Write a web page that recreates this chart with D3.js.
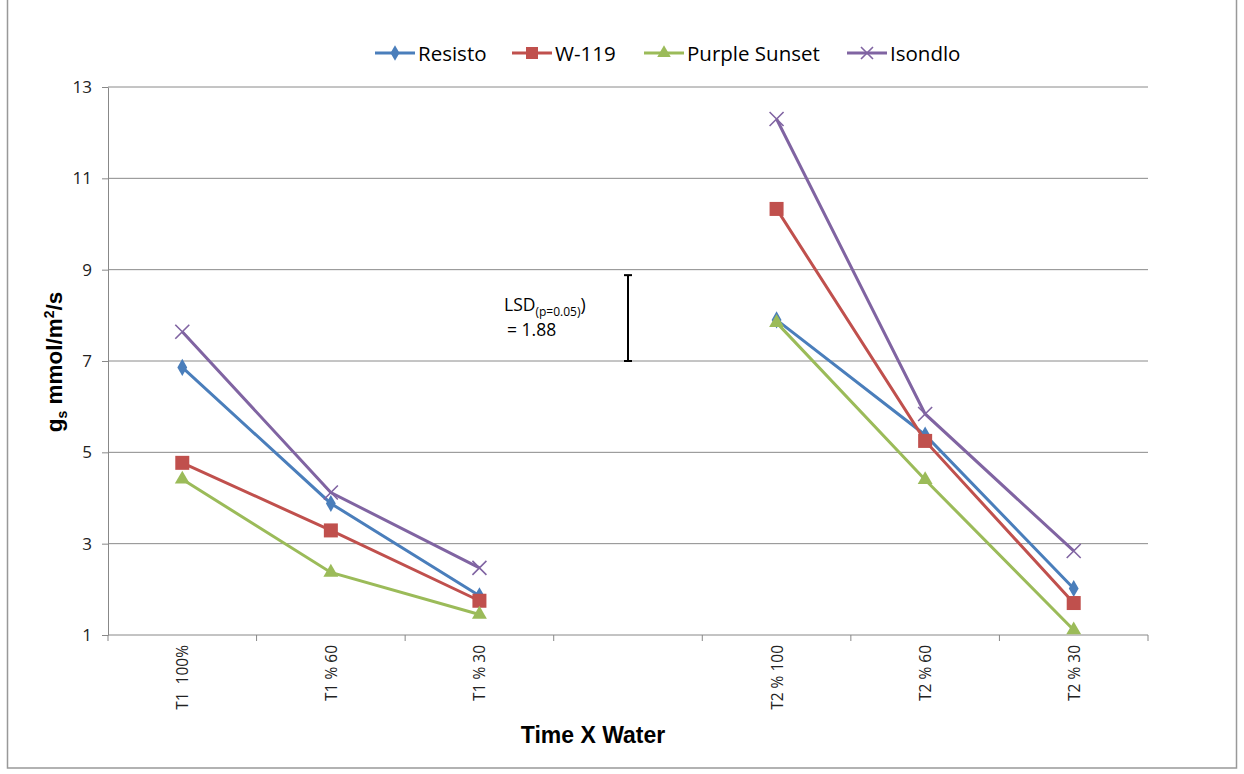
<!DOCTYPE html>
<html>
<head>
<meta charset="utf-8">
<script src="https://cdn.jsdelivr.net/npm/d3@7"></script>
<style>
  body { margin: 0; background: #fff; }
  .axis text { font-family: "Open Sans", sans-serif; fill: #222; }
  .axis path, .axis line { stroke: #888; }
</style>
</head>
<body>
<div id="chart"></div>
<script>
// categories (blank slot between the two time points)
const categories = ["T1  100%", "T1 % 60", "T1 % 30", "", "T2 % 100", "T2 % 60", "T2 % 30"];
const yTicks = [1, 3, 5, 7, 9, 11, 13];

// series values, null for the blank slot
const resisto = [6.86, 3.88, 1.86, null, 7.9, 5.38, 2.02];
const w119 = [4.77, 3.29, 1.75, null, 10.33, 5.25, 1.7];
const purpleSunset = [4.41, 2.37, 1.45, null, 7.84, 4.4, 1.11];
const isondlo = [7.64, 4.12, 2.47, null, 12.3, 5.84, 2.84];

// LSD bar
const lsdBase = 7;
const lsdValue = 1.88;

const series = [
  { name: "Resisto", values: resisto, color: "#4A7EBB", marker: "diamond" },
  { name: "W-119", values: w119, color: "#C0504D", marker: "square" },
  { name: "Purple Sunset", values: purpleSunset, color: "#9BBB59", marker: "triangle" },
  { name: "Isondlo", values: isondlo, color: "#8064A2", marker: "cross" },
];

const W = 1244, H = 774;
const margin = { top: 87, right: 96, bottom: 139, left: 108 };
const width = W - margin.left - margin.right;
const height = H - margin.top - margin.bottom;

const svg = d3.select("#chart").append("svg")
  .attr("width", W).attr("height", H);

// outer frame
svg.append("rect")
  .attr("x", 7.5).attr("y", -1)
  .attr("width", 1229).attr("height", 769)
  .attr("fill", "none").attr("stroke", "#999").attr("stroke-width", 1.5);

const g = svg.append("g")
  .attr("transform", "translate(" + margin.left + "," + margin.top + ")");

const x = d3.scaleBand().domain(d3.range(categories.length)).range([0, width]);
const y = d3.scaleLinear().domain([1, 13]).range([height, 0]);

// gridlines
g.append("g").selectAll("line")
  .data(yTicks.slice(1))
  .join("line")
  .attr("x1", 0).attr("x2", width)
  .attr("y1", d => y(d)).attr("y2", d => y(d))
  .attr("stroke", "#8a8a8a").attr("stroke-width", 1);

// y axis
const yAxis = g.append("g").attr("class", "axis")
  .call(d3.axisLeft(y).tickValues(yTicks).tickSize(6).tickPadding(10).tickSizeOuter(0));
yAxis.selectAll("text").style("font-size", "17px");

// x axis: line with ticks at band edges
const xAxisG = g.append("g").attr("class", "axis")
  .attr("transform", "translate(0," + height + ")");
xAxisG.append("line")
  .attr("x1", 0).attr("x2", width)
  .attr("stroke", "#888");
xAxisG.selectAll(".tick-edge")
  .data(d3.range(categories.length + 1))
  .join("line")
  .attr("x1", i => i * x.bandwidth()).attr("x2", i => i * x.bandwidth())
  .attr("y1", 0).attr("y2", 6)
  .attr("stroke", "#888");
xAxisG.selectAll(".cat")
  .data(categories)
  .join("text")
  .attr("transform", (d, i) =>
    "translate(" + (x(i) + x.bandwidth() / 2 + 6) + ",10) rotate(-90)")
  .attr("text-anchor", "end")
  .style("font-size", "15.5px")
  .style("white-space", "pre")
  .text(d => d);

// line generator
const line = d3.line()
  .defined(d => d != null)
  .x((d, i) => x(i) + x.bandwidth() / 2)
  .y(d => y(d));

function drawMarker(sel, type, color, size) {
  if (type === "diamond") {
    sel.append("path").attr("d", d3.symbol(d3.symbolDiamond, size * 7)())
      .attr("fill", color);
  } else if (type === "square") {
    sel.append("rect").attr("x", -size / 2 - 1).attr("y", -size / 2 - 1)
      .attr("width", size + 2).attr("height", size + 2).attr("fill", color);
  } else if (type === "triangle") {
    sel.append("path").attr("d", d3.symbol(d3.symbolTriangle, size * 8)())
      .attr("fill", color);
  } else {
    const s = size / 2 + 1;
    sel.append("path").attr("d", "M" + -s + "," + -s + "L" + s + "," + s + "M" + -s + "," + s + "L" + s + "," + -s)
      .attr("stroke", color).attr("stroke-width", 1.6).attr("fill", "none");
  }
}

series.forEach(s => {
  g.append("path")
    .datum(s.values)
    .attr("fill", "none")
    .attr("stroke", s.color)
    .attr("stroke-width", 3)
    .attr("d", line);

  s.values.forEach((v, i) => {
    if (v == null) return;
    const m = g.append("g")
      .attr("transform", "translate(" + (x(i) + x.bandwidth() / 2) + "," + y(v) + ")");
    drawMarker(m, s.marker, s.color, 12);
  });
});

// LSD bar in the blank slot
const lsdX = x(3) + x.bandwidth() / 2;
const lsd = g.append("g").attr("stroke", "#000").attr("stroke-width", 2);
lsd.append("line").attr("x1", lsdX).attr("x2", lsdX)
  .attr("y1", y(lsdBase)).attr("y2", y(lsdBase + lsdValue));
[lsdBase, lsdBase + lsdValue].forEach(v => {
  lsd.append("line").attr("x1", lsdX - 4).attr("x2", lsdX + 4)
    .attr("y1", y(v)).attr("y2", y(v));
});

const lsdText = g.append("text")
  .attr("x", lsdX - 124).attr("y", y(8.1))
  .style("font-family", "'Open Sans', sans-serif")
  .style("font-size", "17.5px");
lsdText.append("tspan").text("LSD");
lsdText.append("tspan").attr("dy", 5).style("font-size", "12px").text("(p=0.05)");
lsdText.append("tspan").attr("dy", -5).text(")");
g.append("text")
  .attr("x", lsdX - 121).attr("y", y(7.55))
  .style("font-family", "'Open Sans', sans-serif")
  .style("font-size", "17.5px")
  .text("= 1.88");

// axis titles
const yTitle = svg.append("text")
  .attr("transform", "translate(62,362) rotate(-90)")
  .attr("text-anchor", "middle")
  .style("font-family", "'Liberation Sans', Arial, sans-serif")
  .style("font-weight", "bold")
  .style("font-size", "22.5px");
yTitle.append("tspan").text("g");
yTitle.append("tspan").attr("dy", 5).style("font-size", "14px").text("s");
yTitle.append("tspan").attr("dy", -5).text(" mmol/m");
yTitle.append("tspan").attr("dy", -8).style("font-size", "14px").text("2");
yTitle.append("tspan").attr("dy", 8).text("/s");

svg.append("text")
  .attr("x", 593).attr("y", 743)
  .attr("text-anchor", "middle")
  .style("font-family", "'Liberation Sans', Arial, sans-serif")
  .style("font-weight", "bold")
  .style("font-size", "23px")
  .text("Time X Water");

// legend
const legendX = [375, 512, 644, 847];
const legend = svg.append("g");
series.forEach((s, i) => {
  const lg = legend.append("g").attr("transform", "translate(" + legendX[i] + ",53)");
  lg.append("line").attr("x1", 0).attr("x2", 40)
    .attr("stroke", s.color).attr("stroke-width", 3);
  const m = lg.append("g").attr("transform", "translate(20,0)");
  drawMarker(m, s.marker, s.color, 10);
  lg.append("text").attr("x", 43).attr("y", 7.5)
    .style("font-family", "'Open Sans', sans-serif")
    .style("font-size", "20.5px")
    .text(s.name);
});
</script>
</body>
</html>
